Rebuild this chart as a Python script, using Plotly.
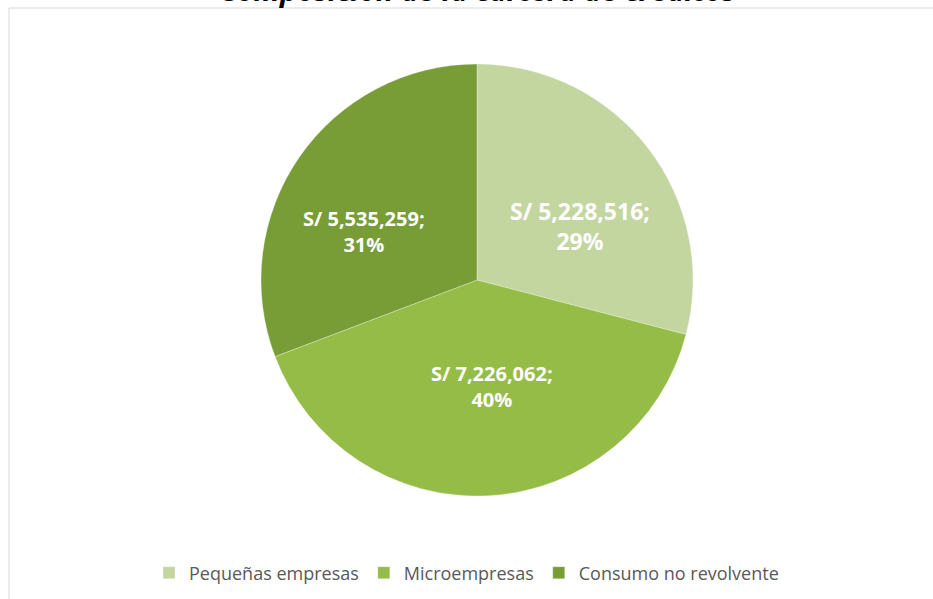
import math
import plotly.graph_objects as go

categories = ["Pequeñas empresas", "Microempresas", "Consumo no revolvente"]
values = [5228516, 7226062, 5535259]
title_text = "Composición de la cartera de créditos"

# styles
colors = ["#c3d6a0", "#94bc46", "#789c36"]
label_sizes = [23, 20, 20]
# label placement: (angle in degrees clockwise from 12 o'clock, distance as fraction of radius)
label_polar = [(62.3, 0.538), (171.9, 0.496), (293.0, 0.569)]

W, H = 933, 599
cx, cy, r = 477, 280, 216

total = sum(values)

fig = go.Figure(go.Pie(
    labels=categories,
    values=values,
    sort=False,
    direction="clockwise",
    rotation=0,
    marker=dict(colors=colors, line=dict(color="rgba(255,255,255,0.3)", width=1)),
    textinfo="none",
    hoverinfo="skip",
    domain=dict(x=[(cx - r) / W, (cx + r) / W], y=[1 - (cy + r) / H, 1 - (cy - r) / H]),
))

for v, size, (ang, frac) in zip(values, label_sizes, label_polar):
    px = cx + frac * r * math.sin(math.radians(ang))
    py = cy - frac * r * math.cos(math.radians(ang))
    txt = "<b>S/ {:,.0f};<br>{:.0%}</b>".format(v, v / total)
    fig.add_annotation(text=txt, xref="paper", yref="paper", x=px / W, y=1 - py / H,
                       xanchor="center", yanchor="middle", showarrow=False,
                       font=dict(family="Open Sans", size=size, color="white"))

fig.add_shape(type="rect", xref="paper", yref="paper",
              x0=9 / W, x1=1.05, y0=-0.05, y1=1 - 8 / H,
              line=dict(color="#d9d9d9", width=1), fillcolor="rgba(0,0,0,0)", layer="below")

fig.add_annotation(text="<b><i>" + title_text + "</i></b>", xref="paper", yref="paper",
                   x=477 / W, y=1 + 10.5 / H, xanchor="center", yanchor="middle",
                   showarrow=False, font=dict(family="Open Sans", size=29, color="#000000"))

fig.update_layout(
    width=W, height=H,
    margin=dict(l=0, r=0, t=0, b=0),
    paper_bgcolor="white",
    showlegend=True,
    legend=dict(orientation="h", x=0.5, xanchor="center", y=1 - 573 / H, yanchor="middle",
                font=dict(family="Open Sans", size=18, color="#595959"),
                itemwidth=30, traceorder="normal"),
)

fig.write_html("out.html", config={"displayModeBar": False},
               post_script="document.body.style.margin='0';")
